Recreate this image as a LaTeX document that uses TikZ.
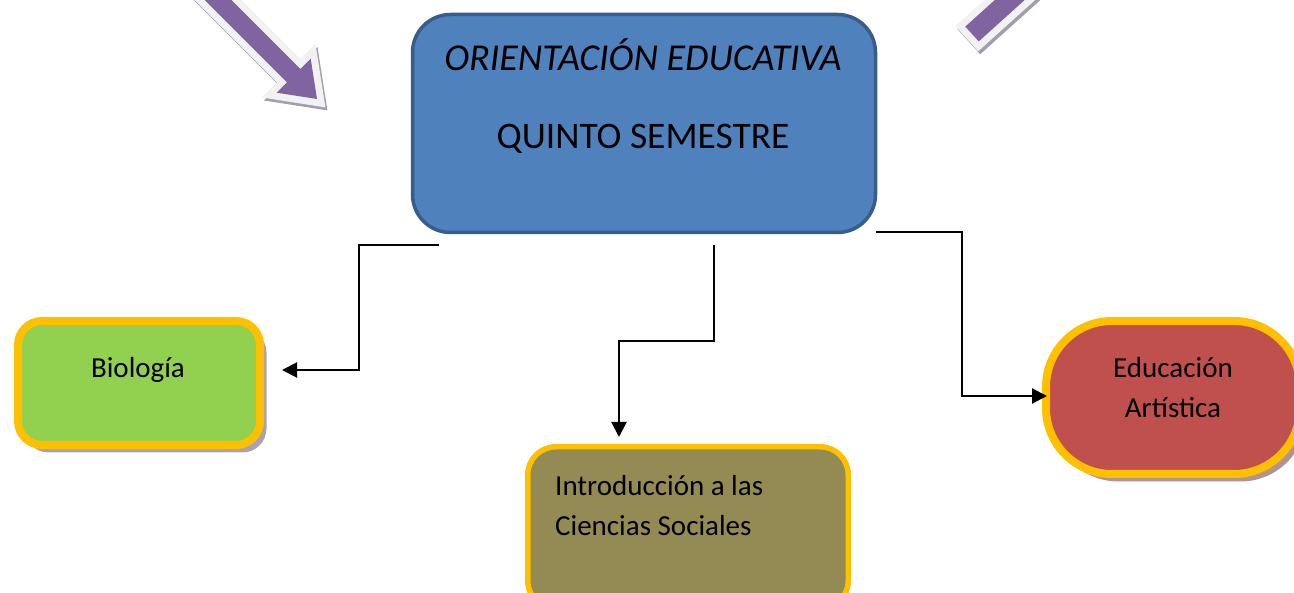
\documentclass[tikz,border=0pt]{standalone}
\usepackage{fontspec}
\setmainfont{Carlito}
\usetikzlibrary{arrows.meta,shadows}
\definecolor{mainblue}{HTML}{4F81BD}
\definecolor{mainborder}{HTML}{385D8A}
\definecolor{bioGreen}{HTML}{92D050}
\definecolor{artRed}{HTML}{C0504D}
\definecolor{socOlive}{HTML}{948A54}
\definecolor{frameYellow}{HTML}{FFC000}
\definecolor{arrowPurple}{HTML}{8064A2}
\definecolor{arrowRim}{HTML}{F2F2F2}
\definecolor{rimShadow}{HTML}{A29FAD}
\definecolor{shadowGrey}{HTML}{A8A3B3}
\definecolor{shadowRed}{HTML}{B09494}
\begin{document}
\begin{tikzpicture}[x=1pt,y=-1pt,
  mainbox/.style={draw=mainborder, line width=3.5pt, fill=mainblue, inner sep=0pt, outer sep=0pt,
    rounded corners=38pt, minimum width=463pt, minimum height=218pt},
  subjbox/.style={draw=frameYellow, line width=8pt, inner sep=0pt, outer sep=0pt, rounded corners=#1},
  boxshadow/.style={drop shadow={shadow xshift=6.5pt, shadow yshift=-7.5pt, fill=#1, opacity=1}},
  maintext/.style={font=\fontsize{37.5}{44}\selectfont, text=black, inner sep=0pt},
  subjtext/.style={font=\fontsize{29}{40}\selectfont, text=black, inner sep=0pt},
  link/.style={draw=black, line width=2pt, -{Triangle[length=15pt,width=15pt]}},
  arrowshadow/.style={draw=rimShadow, fill=rimShadow, line width=14pt, shift={(2,3)}},
  arrowrim/.style={draw=arrowRim, line width=14pt},
  arrowbody/.style={fill=arrowPurple}
]
\useasboundingbox (0,0) rectangle (1294,593);
\clip (0,0) rectangle (1294,593);

% decorative purple block arrows
\path[arrowshadow] (159,-72.4) -- (300.4,69.0) -- (310.7,58.7) -- (317,99) -- (276.7,92.7) -- (287,82.4) -- (145.6,-59) -- cycle;
\path[arrowrim] (159,-72.4) -- (300.4,69.0) -- (310.7,58.7) -- (317,99) -- (276.7,92.7) -- (287,82.4) -- (145.6,-59) -- cycle;
\path[arrowbody] (159,-72.4) -- (300.4,69.0) -- (310.7,58.7) -- (317,99) -- (276.7,92.7) -- (287,82.4) -- (145.6,-59) -- cycle;

\path[arrowshadow] (965.3,26.6) -- (978.7,41.4) -- (1090.2,-59) -- (1076.8,-73.8) -- cycle;
\path[arrowrim] (965.3,26.6) -- (978.7,41.4) -- (1090.2,-59) -- (1076.8,-73.8) -- cycle;
\path[arrowbody] (965.3,26.6) -- (978.7,41.4) -- (1090.2,-59) -- (1076.8,-73.8) -- cycle;

% main box
\node[mainbox] (main) at (644,123.5) {};
\node[maintext, font=\fontsize{38}{44}\selectfont\itshape, anchor=base] (title) at (643,71) {ORIENTACIÓN EDUCATIVA};
\node[maintext, anchor=base] (sem) at (643,149) {QUINTO SEMESTRE};

% subject boxes
\node[subjbox=24pt, boxshadow=shadowGrey, fill=bioGreen, minimum width=242pt, minimum height=124pt] (bio) at (139,383) {};
\node[subjtext, anchor=base] (biotext) at (138,378) {Biología};

\node[subjbox=66pt, boxshadow=shadowRed, fill=artRed, minimum width=254pt, minimum height=153pt] (art) at (1173,397.5) {};
\node[subjtext, align=center, anchor=base] (arttext) at (1173,418) {Educación\\Artística};

\node[subjbox=28pt, line width=5.5pt, fill=socOlive, minimum width=320.5pt, minimum height=162pt] (soc) at (688,527.75) {};
\node[subjtext, align=left, anchor=base west] (soctext) at (555,536) {Introducción a las\\Ciencias Sociales};

% connectors
\coordinate (s1) at ([shift={(26.5,12.5)}]main.south west);
\coordinate (s2) at ([shift={(301.5,12.5)}]main.south west);
\coordinate (s3) at (main.south east);
\coordinate (e1) at ([shift={(22,-13)}]bio.east);
\coordinate (e2) at ([shift={(-69,-9.75)}]soc.north);
\coordinate (e3) at ([shift={(1,-1.5)}]art.west);
\draw[link] (s1) -- ++(-80,0) |- (e1);
\draw[link] (s2) -- ++(0,96) -| (e2);
\draw[link] (s3) -- ++(86,0) |- (e3);
\end{tikzpicture}
\end{document}
